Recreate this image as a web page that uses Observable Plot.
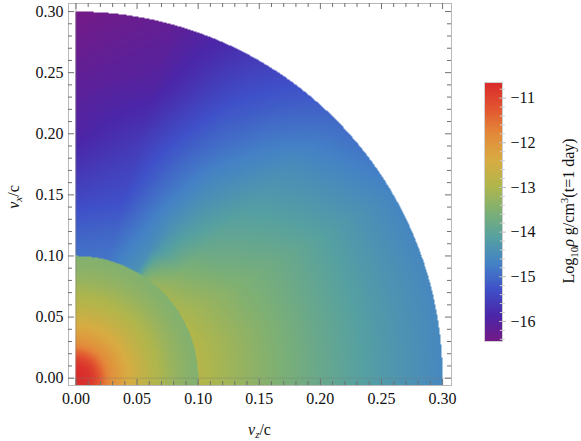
<!DOCTYPE html>
<html>
<head>
<meta charset="utf-8">
<script src="https://cdn.jsdelivr.net/npm/d3@7"></script>
<script src="https://cdn.jsdelivr.net/npm/@observablehq/plot@0.6"></script>
<style>
  body { margin: 0; background: #fff; }
  #wrap { position: relative; width: 581px; height: 441px; font-family: "Liberation Serif", serif; }
  #wrap svg { position: absolute; top: 0; overflow: visible; }
  #wrap svg text { font-family: "Liberation Serif", serif !important; }
</style>
</head>
<body>
<div id="wrap"></div>
<script>
// ---------------- data ----------------
// Inner sphere (r < 0.1 c): log10 density vs radius (isotropic)
const innerR      = [0, 0.01, 0.015, 0.02, 0.025, 0.03, 0.04, 0.05, 0.06, 0.07, 0.08, 0.09, 0.1];
const innerLogRho = [-10.65, -10.75, -10.95, -11.3, -11.7, -11.95, -12.3, -12.6, -12.85, -13.05, -13.25, -13.4, -13.5];

// Outer shell (0.1 c < r < 0.3 c): log10 density vs radius, one profile per polar angle
const outerR = [0.1, 0.125, 0.15, 0.2, 0.25, 0.3];
const outerAngle = [0, 15, 30, 45, 52, 56, 60, 75, 90]; // degrees measured from the v_z axis
const logRho0deg  = [-12.9,  -13.15, -13.4,  -13.85, -14.25, -14.6];
const logRho15deg = [-12.9,  -13.15, -13.4,  -13.85, -14.25, -14.6];
const logRho30deg = [-13.0,  -13.25, -13.5,  -13.85, -14.25, -14.65];
const logRho45deg = [-13.15, -13.55, -13.85, -14.2,  -14.55, -15.0];
const logRho52deg = [-13.3,  -13.95, -14.15, -14.5,  -14.85, -15.25];
const logRho56deg = [-13.6,  -14.2,  -14.35, -14.65, -15.05, -15.4];
const logRho60deg = [-14.4,  -14.5,  -14.55, -14.85, -15.2,  -15.55];
const logRho75deg = [-14.85, -15.05, -15.3,  -15.6,  -16.0,  -16.2];
const logRho90deg = [-14.9,  -15.15, -15.45, -15.95, -16.2,  -16.45];
const outerProfiles = [logRho0deg, logRho15deg, logRho30deg, logRho45deg, logRho52deg, logRho56deg, logRho60deg, logRho75deg, logRho90deg];
const outerRadius = 0.3;
const innerRadius = 0.1;

// Axis ticks
const axisMajorTicks = [0, 0.05, 0.1, 0.15, 0.2, 0.25, 0.3];
const colorTickValues = [-11, -12, -13, -14, -15, -16];
const colorMin = -16.45, colorMax = -10.65;

// ---------------- styling ----------------
const paletteStops  = [-16.45, -15.87, -15.29, -14.71, -14.13, -13.55, -12.97, -12.39, -11.81, -11.23, -10.65];
const paletteColors = ["#741a86", "#4b26a8", "#3f50c8", "#4482c6", "#55a0a2", "#7db074",
                       "#b0b64c", "#d8ac42", "#e38a3a", "#e25530", "#d92b2b"];
const colorScale = {type: "linear", domain: paletteStops, range: paletteColors, interpolate: "rgb", clamp: true};
const font = "Liberation Serif, serif";
const tickStroke = "#707070";

// ---------------- field lookup from the tables ----------------
function lerpTable(xs, ys, x) {
  if (x <= xs[0]) return ys[0];
  for (let i = 1; i < xs.length; ++i) {
    if (x <= xs[i]) {
      const t = (x - xs[i - 1]) / (xs[i] - xs[i - 1]);
      return ys[i - 1] + t * (ys[i] - ys[i - 1]);
    }
  }
  return ys[ys.length - 1];
}
function logRho(vz, vx) {
  if (vz < 0) return NaN;
  const y = Math.abs(vx);
  const r = Math.hypot(vz, y);
  if (r > outerRadius) return NaN;
  if (r < innerRadius) return lerpTable(innerR, innerLogRho, r);
  const theta = Math.atan2(y, vz) * 180 / Math.PI;
  const vals = outerProfiles.map(p => lerpTable(outerR, p, r));
  return lerpTable(outerAngle, vals, theta);
}

// ---------------- main chart ----------------
const W = 581, H = 441;
const mL = 68, mR = 130, mT = 3, mB = 56;
const frameW = W - mL - mR, frameH = H - mT - mB;
const xDomain = [-0.0061, 0.3073];
const yDomain = [-0.006, 0.3066];
const minorTicks = d3.range(0, 31).map(i => i / 100).filter(v => Math.round(v * 100) % 5 !== 0);
const unitsPerPxX = (xDomain[1] - xDomain[0]) / frameW;
const unitsPerPxY = (yDomain[1] - yDomain[0]) / frameH;

// inward frame ticks (given length in pixels) on all four sides
function frameTicks(ticks, len) {
  const o = {stroke: tickStroke, strokeWidth: 1};
  const ly = len * unitsPerPxY, lx = len * unitsPerPxX;
  return [
    Plot.ruleX(ticks, {...o, x: d => d, y1: yDomain[0], y2: yDomain[0] + ly}),
    Plot.ruleX(ticks, {...o, x: d => d, y1: yDomain[1], y2: yDomain[1] - ly}),
    Plot.ruleY(ticks, {...o, y: d => d, x1: xDomain[0], x2: xDomain[0] + lx}),
    Plot.ruleY(ticks, {...o, y: d => d, x1: xDomain[1], x2: xDomain[1] - lx})
  ];
}

const chart = Plot.plot({
  width: W, height: H,
  marginLeft: mL, marginRight: mR, marginTop: mT, marginBottom: mB,
  style: {fontFamily: font, fontSize: "16px", background: "transparent", overflow: "visible"},
  x: {domain: xDomain, axis: null},
  y: {domain: yDomain, axis: null},
  color: colorScale,
  marks: [
    Plot.raster({x1: xDomain[0], x2: xDomain[1], y1: yDomain[0], y2: yDomain[1], fill: logRho, pixelSize: 1}),
    Plot.ruleX([0], {stroke: "#777", strokeOpacity: 0.45}),
    Plot.ruleY([0], {stroke: "#777", strokeOpacity: 0.35}),
    Plot.frame({stroke: "#b9b9b9"}),
    ...frameTicks(axisMajorTicks, 6),
    ...frameTicks(minorTicks, 4),
    Plot.axisX({anchor: "bottom", ticks: axisMajorTicks, tickSize: 0, tickPadding: 7, stroke: "none",
                tickFormat: d3.format(".2f"), fontSize: 16, fontFamily: font, fill: "#111", label: null}),
    Plot.axisY({anchor: "left", ticks: axisMajorTicks, tickSize: 0, tickPadding: 5, stroke: "none",
                tickFormat: d3.format(".2f"), fontSize: 16, fontFamily: font, fill: "#111", label: null})
  ]
});
chart.style.left = "0px";
document.getElementById("wrap").appendChild(chart);

// axis titles (italic variables with subscripts)
{
  const svg = d3.select(chart);
  const cx = (mL + (W - mR)) / 2;
  const xt = svg.append("text").attr("x", cx).attr("y", 435).attr("text-anchor", "middle")
    .attr("font-family", font).attr("font-size", 16).attr("fill", "#111");
  xt.append("tspan").attr("font-style", "italic").text("v");
  xt.append("tspan").attr("font-style", "italic").attr("font-size", 11).attr("dy", 3).text("z");
  xt.append("tspan").attr("dy", -3).text("/c");

  const cy = (mT + (H - mB)) / 2 + 3;
  const yt = svg.append("text").attr("transform", `translate(19,${cy}) rotate(-90)`).attr("text-anchor", "middle")
    .attr("font-family", font).attr("font-size", 16).attr("fill", "#111");
  yt.append("tspan").attr("font-style", "italic").text("v");
  yt.append("tspan").attr("font-style", "italic").attr("font-size", 11).attr("dy", 3).text("x");
  yt.append("tspan").attr("dy", -3).text("/c");
}

// ---------------- colour bar ----------------
const barLeft = 470;
const colorMinor = d3.range(-164, -106, 2).map(v => v / 10).filter(v => Math.abs(v - Math.round(v)) > 1e-9);
const bar = Plot.plot({
  width: 111, height: H,
  marginLeft: 14, marginRight: 79, marginTop: 82, marginBottom: 100,
  style: {fontFamily: font, fontSize: "16px", background: "transparent", overflow: "visible"},
  x: {domain: [0, 1], axis: null},
  y: {domain: [colorMin, colorMax], axis: null},
  color: colorScale,
  marks: [
    Plot.raster({x1: 0, x2: 1, y1: colorMin, y2: colorMax, fill: (x, y) => y, pixelSize: 1}),
    Plot.frame({stroke: "#d0d0d0"}),
    Plot.ruleY(colorMinor, {y: d => d, x1: 0.88, x2: 1.16, stroke: "#cfcfcf"}),
    Plot.ruleY(colorTickValues, {y: d => d, x1: 0.83, x2: 1.22, stroke: "#bdbdbd"}),
    Plot.axisY({anchor: "right", ticks: colorTickValues, tickSize: 0, tickPadding: 8, stroke: "none",
                tickFormat: d => "\u2212" + Math.abs(d), fontSize: 16, fontFamily: font, fill: "#111", label: null})
  ]
});
bar.style.left = barLeft + "px";
document.getElementById("wrap").appendChild(bar);
{
  const svg = d3.select(bar);
  const t = svg.append("text").attr("transform", `translate(104,211) rotate(-90)`).attr("text-anchor", "middle")
    .attr("font-family", font).attr("font-size", 16).attr("fill", "#111");
  t.append("tspan").text("Log");
  t.append("tspan").attr("font-size", 11).attr("dy", 4).text("10");
  t.append("tspan").attr("dy", -4).attr("font-style", "italic").text("\u03C1");
  t.append("tspan").text(" g/cm");
  t.append("tspan").attr("font-size", 11).attr("dy", -6).text("3");
  t.append("tspan").attr("dy", 6).text("(t=1 day)");
}
</script>
</body>
</html>
